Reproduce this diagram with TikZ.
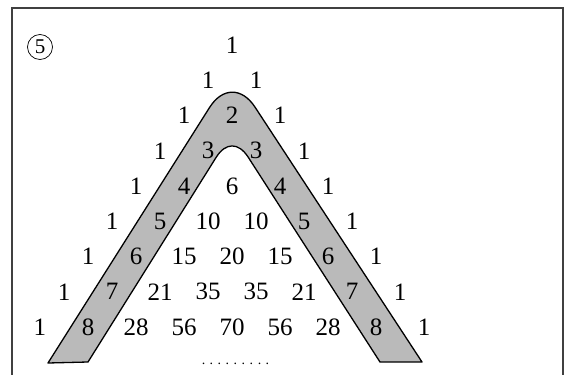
\documentclass[tikz,border=0pt]{standalone}
\usepackage{fontspec}
\setmainfont{Liberation Serif}
\usetikzlibrary{calc}
\begin{document}
\begin{tikzpicture}[x=1pt,y=-1pt,
  num/.style={inner sep=0pt,font=\fontsize{25}{30}\selectfont},
  band/.style={fill=black!27,draw=black,line width=1.3pt,line join=round},
  frame/.style={draw=black!75,line width=1.3pt},
  circnum/.style={circle,draw,line width=0.7pt,minimum size=25pt,inner sep=0pt,font=\fontsize{21}{21}\selectfont},
  dotrow/.style={anchor=base,inner sep=0pt,font=\fontsize{14}{14}\selectfont}]
\useasboundingbox (0,0) rectangle (566,375);
\draw[frame] (12,380) -- (12,8) -- (563,8) -- (563,380);
\coordinate (obl) at (48,363);
\coordinate (oapex) at (232,72);
\coordinate (obr) at (422,362);
\coordinate (ibl) at (88,362);
\coordinate (iapex) at (232,132);
\coordinate (ibr) at (380,362);
\filldraw[band] (obl) -- ($(oapex)!42pt!(obl)$)
  .. controls ($(oapex)!18pt!(obl)$) and ($(oapex)!18pt!(obr)$) .. ($(oapex)!42pt!(obr)$)
  -- (obr) -- (ibr) -- ($(iapex)!30pt!(ibr)$)
  .. controls ($(iapex)!12pt!(ibr)$) and ($(iapex)!12pt!(ibl)$) .. ($(iapex)!30pt!(ibl)$)
  -- (ibl) -- cycle;
\foreach \row [count=\r from 0] in {{1},{1,1},{1,2,1},{1,3,3,1},{1,4,6,4,1},{1,5,10,10,5,1},{1,6,15,20,15,6,1},{1,7,21,35,35,21,7,1},{1,8,28,56,70,56,28,8,1}}{
  \foreach \v [count=\k from 0] in \row {
    \node[num] (n\r-\k) at ({232+24*(2*\k-\r)},{45+35.25*\r}) {\v};
  }
}
\node[circnum] (c5) at (40,47) {5};
\node[dotrow] (dots) at (235.5,364) {.\hspace{4.5pt}.\hspace{4.5pt}.\hspace{4.5pt}.\hspace{4.5pt}.\hspace{4.5pt}.\hspace{4.5pt}.\hspace{4.5pt}.\hspace{4.5pt}.};
\end{tikzpicture}
\end{document}
